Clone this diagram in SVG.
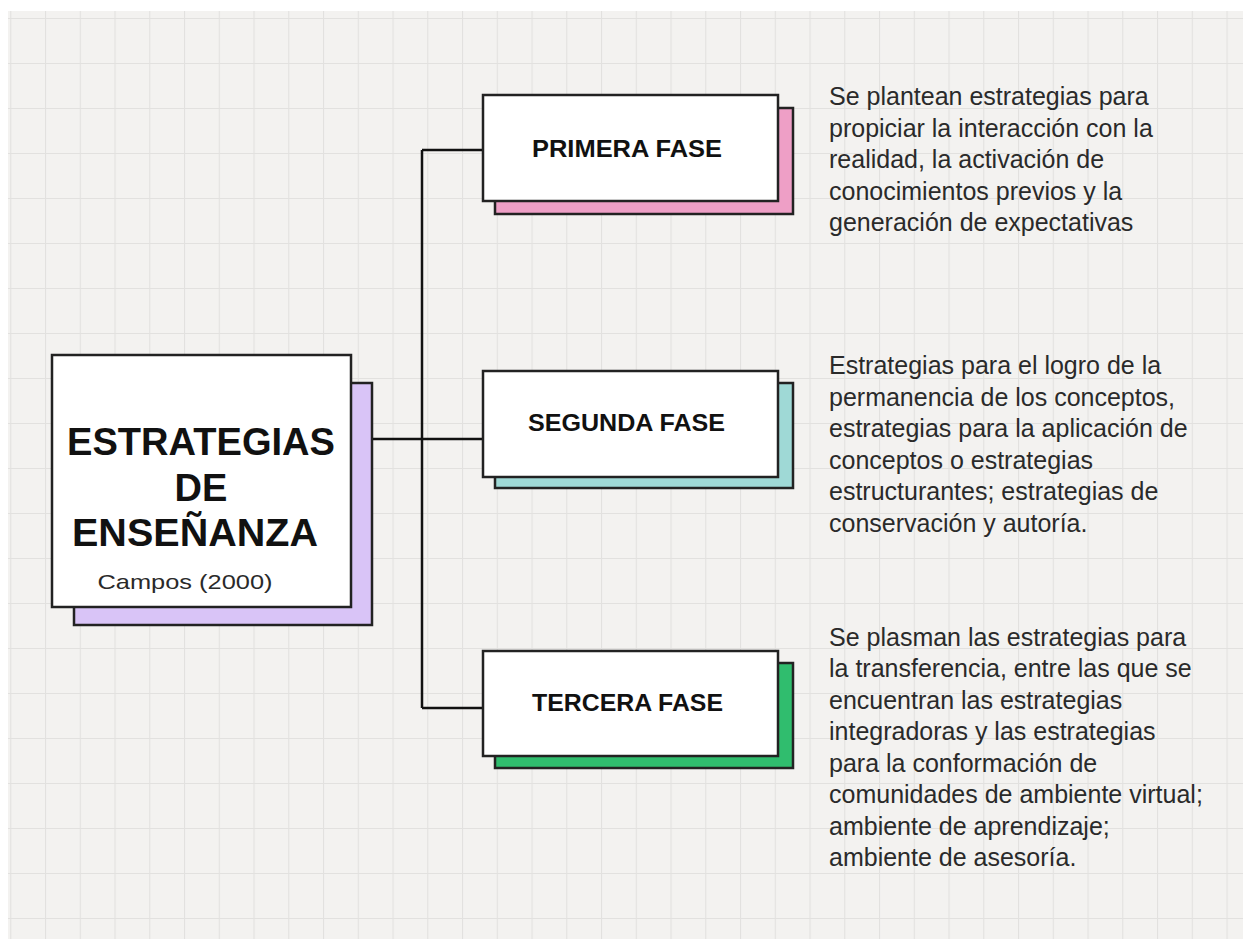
<svg xmlns="http://www.w3.org/2000/svg" width="1243" height="939" viewBox="0 0 1243 939">
  <defs>
    <pattern id="grid" x="10.25" y="18" width="34.75" height="45" patternUnits="userSpaceOnUse">
      <path d="M0.5 0 V45 M0 0.5 H34.75" fill="none" stroke="#e2e1df" stroke-width="1.2"/>
    </pattern>
    <style>
      .box { fill: #ffffff; stroke: #222222; stroke-width: 2.5; }
      .sh { stroke: #222222; stroke-width: 2.5; }
      .title { font-family: "Liberation Sans", Arial, sans-serif; font-weight: bold; fill: #111111; text-anchor: middle; }
      .phase { font-family: "Liberation Sans", Arial, sans-serif; font-weight: bold; font-size: 24px; fill: #111111; text-anchor: middle; }
      .body { font-family: "Liberation Sans", Arial, sans-serif; font-size: 25px; fill: #2a2a2a; }
      .conn { fill: none; stroke: #111111; stroke-width: 2.5; }
    </style>
  </defs>

  <rect x="0" y="0" width="1243" height="939" fill="#ffffff"/>
  <rect x="8" y="11" width="1235" height="928" fill="#f3f2f0"/>
  <rect x="8" y="11" width="1235" height="928" fill="url(#grid)"/>

  <g id="connectors">
    <path class="conn" d="M351 439 H483"/>
    <path class="conn" d="M422 150 V708"/>
    <path class="conn" d="M422 150 H483"/>
    <path class="conn" d="M422 708 H483"/>
  </g>

  <g id="main">
    <rect class="sh" x="74" y="383" width="298" height="242" fill="#d9c4f7"/>
    <rect class="box" x="52" y="355" width="299" height="252"/>
    <text class="title" x="201" y="455" font-size="38" textLength="268" lengthAdjust="spacingAndGlyphs">ESTRATEGIAS</text>
    <text class="title" x="201" y="501" font-size="38">DE</text>
    <text class="title" x="195" y="546" font-size="38" textLength="246" lengthAdjust="spacingAndGlyphs">ENSEÑANZA</text>
    <text x="185" y="589" font-family="'Liberation Sans', Arial, sans-serif" font-size="21" fill="#2a2a2a" text-anchor="middle" textLength="175" lengthAdjust="spacingAndGlyphs">Campos (2000)</text>
  </g>

  <g id="primera">
    <rect class="sh" x="495" y="108" width="298" height="106" fill="#ee9fc6"/>
    <rect class="box" x="483" y="95" width="295" height="106"/>
    <text class="phase" x="627" y="157" textLength="190" lengthAdjust="spacingAndGlyphs">PRIMERA FASE</text>
  </g>

  <g id="segunda">
    <rect class="sh" x="495" y="383" width="298" height="105" fill="#9fd9d6"/>
    <rect class="box" x="483" y="371" width="295" height="106"/>
    <text class="phase" x="626.5" y="431" textLength="197" lengthAdjust="spacingAndGlyphs">SEGUNDA FASE</text>
  </g>

  <g id="tercera">
    <rect class="sh" x="495" y="663" width="298" height="105" fill="#30bd6e"/>
    <rect class="box" x="483" y="651" width="295" height="105"/>
    <text class="phase" x="627.5" y="711" textLength="191" lengthAdjust="spacingAndGlyphs">TERCERA FASE</text>
  </g>

  <g id="desc1">
    <text class="body" x="829" y="105">Se plantean estrategias para</text>
    <text class="body" x="829" y="136.6">propiciar la interacción con la</text>
    <text class="body" x="829" y="168.2">realidad, la activación de</text>
    <text class="body" x="829" y="199.8">conocimientos previos y la</text>
    <text class="body" x="829" y="231.4">generación de expectativas</text>
  </g>

  <g id="desc2">
    <text class="body" x="829" y="374">Estrategias para el logro de la</text>
    <text class="body" x="829" y="405.6">permanencia de los conceptos,</text>
    <text class="body" x="829" y="437.2">estrategias para la aplicación de</text>
    <text class="body" x="829" y="468.8">conceptos o estrategias</text>
    <text class="body" x="829" y="500.4">estructurantes; estrategias de</text>
    <text class="body" x="829" y="532">conservación y autoría.</text>
  </g>

  <g id="desc3">
    <text class="body" x="829" y="645.5">Se plasman las estrategias para</text>
    <text class="body" x="829" y="677">la transferencia, entre las que se</text>
    <text class="body" x="829" y="708.5">encuentran las estrategias</text>
    <text class="body" x="829" y="740">integradoras y las estrategias</text>
    <text class="body" x="829" y="771.5">para la conformación de</text>
    <text class="body" x="829" y="803">comunidades de ambiente virtual;</text>
    <text class="body" x="829" y="834.5">ambiente de aprendizaje;</text>
    <text class="body" x="829" y="866">ambiente de asesoría.</text>
  </g>
</svg>
